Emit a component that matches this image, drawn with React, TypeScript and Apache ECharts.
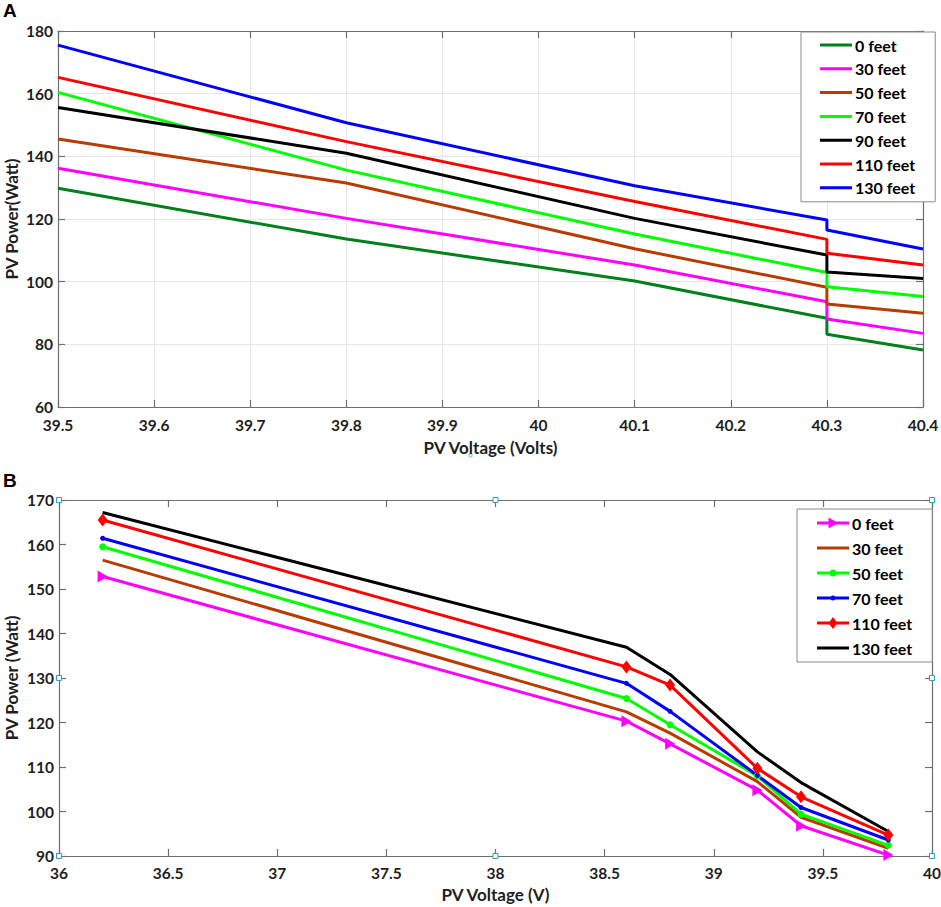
import React, { useEffect, useRef } from "react";
import * as echarts from "echarts";

// ---------- Panel A data ----------
const voltageA = [39.5, 39.8, 40.1, 40.3, 40.3, 40.4];
const namesA = ["0 feet", "30 feet", "50 feet", "70 feet", "90 feet", "110 feet", "130 feet"];
const powerA0 = [129.8, 113.6, 100.2, 88.3, 83.2, 78.2];
const powerA30 = [136.2, 120.2, 105.3, 93.6, 88.1, 83.5];
const powerA50 = [145.5, 131.5, 110.5, 98.2, 92.9, 89.9];
const powerA70 = [160.4, 135.6, 115.2, 102.9, 98.4, 95.3];
const powerA90 = [155.6, 141.0, 120.2, 108.5, 103.1, 101.0];
const powerA110 = [165.2, 144.7, 125.6, 113.5, 109.1, 105.3];
const powerA130 = [175.5, 150.7, 130.6, 119.7, 116.5, 110.4];
const xAxisA = { min: 39.5, max: 40.4, interval: 0.1 };
const yAxisA = { min: 60, max: 180, interval: 20 };

// ---------- Panel B data ----------
const voltageB = [36.2, 38.6, 38.8, 39.2, 39.4, 39.8];
const namesB = ["0 feet", "30 feet", "50 feet", "70 feet", "110 feet", "130 feet"];
const powerB0 = [152.8, 120.3, 115.2, 104.8, 96.8, 90.2];
const powerB30 = [156.5, 122.4, 117.6, 106.7, 98.7, 91.7];
const powerB50 = [159.5, 125.4, 119.5, 108.0, 99.4, 92.4];
const powerB70 = [161.4, 128.8, 122.5, 108.1, 100.9, 93.6];
const powerB110 = [165.5, 132.5, 128.4, 109.7, 103.3, 94.7];
const powerB130 = [167.2, 136.9, 130.8, 113.4, 106.5, 95.5];
const xAxisB = { min: 36, max: 40, interval: 0.5 };
const yAxisB = { min: 90, max: 170, interval: 10 };

const powersA = [powerA0, powerA30, powerA50, powerA70, powerA90, powerA110, powerA130];
const powersB = [powerB0, powerB30, powerB50, powerB70, powerB110, powerB130];

// ---------- styles ----------
const colorsA = ["#00801a", "#ff00ff", "#b83c00", "#00ff00", "#000000", "#ff0000", "#0000ff"];
const colorsB = ["#ff00ff", "#b83c00", "#00ff00", "#0000ff", "#ff0000", "#000000"];
const FONT = "Lato";
const AXIS_COLOR = "#6e6e6e";
const LABEL_COLOR = "#1e1e1e";

const gridA = { left: 58, top: 31, width: 865, height: 376 };
const gridB = { left: 59, top: 500, width: 873, height: 356 };

const anchors = "M0 0 L0.01 0 L0.01 0.01 Z M32 14 L31.99 14 L31.99 13.99 Z ";
const lineRect = "M0 5.5 L32 5.5 L32 8.5 L0 8.5 Z ";
const iconLine = "path://" + anchors + lineRect;
const iconTri = "path://" + anchors + lineRect + "M11.5 1.5 L21 7 L11.5 12.5 Z";
const iconCircleBig = "path://" + anchors + lineRect + "M12.5 7 A3.5 3.5 0 1 1 19.5 7 A3.5 3.5 0 1 1 12.5 7 Z";
const iconCircleSmall = "path://" + anchors + lineRect + "M13.5 7 A2.5 2.5 0 1 1 18.5 7 A2.5 2.5 0 1 1 13.5 7 Z";
const iconDiamond = "path://" + anchors + lineRect + "M16 1 L20.5 7 L16 13 L11.5 7 Z";
const iconsB = [iconTri, iconLine, iconCircleBig, iconCircleSmall, iconDiamond, iconLine];

const symbolsB: any[] = [
  { symbol: "path://M0 0 L10 6 L0 12 Z", symbolSize: [10, 12] },
  { symbol: "none", symbolSize: 0 },
  { symbol: "circle", symbolSize: 7 },
  { symbol: "circle", symbolSize: 5 },
  { symbol: "diamond", symbolSize: [10, 13] },
  { symbol: "none", symbolSize: 0 },
];

const tickLabel = { show: true, color: LABEL_COLOR, fontFamily: FONT, fontWeight: "bold", fontSize: 15.5 };
const legendText = { color: "#000", fontFamily: FONT, fontWeight: "bold", fontSize: 16, padding: [0, 0, 0, -2] };

function valueAxis(cfg: any, gridIndex: number, position: string, main: boolean, grid: boolean, extra: any = {}) {
  return {
    type: "value",
    gridIndex,
    position,
    min: cfg.min,
    max: cfg.max,
    interval: cfg.interval,
    nameMoveOverlap: false,
    axisLine: { show: true, onZero: false, lineStyle: { color: AXIS_COLOR, width: 1.2 } },
    axisTick: { show: true, inside: true, length: 7, lineStyle: { color: AXIS_COLOR, width: 1.2 } },
    axisLabel: main ? tickLabel : { show: false },
    splitLine: { show: main && grid, lineStyle: { color: "#e6e6e6", width: 1 } },
    nameTextStyle: { color: LABEL_COLOR, fontFamily: FONT, fontWeight: "bold", fontSize: 17, lineHeight: 17 },
    ...extra,
  };
}

function handle(x: number, y: number) {
  return {
    type: "rect",
    shape: { x: x - 2.5, y: y - 2.5, width: 5, height: 5 },
    style: { fill: "#ffffff", stroke: "#2c9fc9", lineWidth: 1 },
    z: 100,
  };
}

export default function App() {
  const ref = useRef<HTMLDivElement>(null);

  useEffect(() => {
    if (!ref.current) return;
    const chart = echarts.init(ref.current, null, { renderer: "svg" });

    const seriesA = namesA.map((n, i) => ({
      name: "A|" + n,
      type: "line",
      xAxisIndex: 0,
      yAxisIndex: 0,
      data: voltageA.map((v, j) => [v, powersA[i][j]]),
      symbol: "none",
      lineStyle: { width: 3, color: colorsA[i] },
      itemStyle: { color: colorsA[i] },
      emphasis: { disabled: true },
    }));

    const seriesB = namesB.map((n, i) => ({
      name: "B|" + n,
      type: "line",
      xAxisIndex: 2,
      yAxisIndex: 2,
      data: voltageB.map((v, j) => [v, powersB[i][j]]),
      symbol: symbolsB[i].symbol,
      symbolSize: symbolsB[i].symbolSize,
      showSymbol: symbolsB[i].symbol !== "none",
      lineStyle: { width: 3, color: colorsB[i] },
      itemStyle: { color: colorsB[i] },
      emphasis: { disabled: true },
    }));

    const hB = [
      [gridB.left, gridB.top],
      [gridB.left + gridB.width / 2, gridB.top],
      [gridB.left + gridB.width, gridB.top],
      [gridB.left, gridB.top + gridB.height / 2],
      [gridB.left + gridB.width, gridB.top + gridB.height / 2],
      [gridB.left, gridB.top + gridB.height],
      [gridB.left + gridB.width / 2, gridB.top + gridB.height],
      [gridB.left + gridB.width, gridB.top + gridB.height],
    ];

    const option: any = {
      animation: false,
      backgroundColor: "#ffffff",
      grid: [
        { ...gridA, containLabel: false, outerBoundsMode: "none" },
        { ...gridB, containLabel: false, outerBoundsMode: "none" },
      ],
      xAxis: [
        valueAxis(xAxisA, 0, "bottom", true, true, {
          name: "PV Voltage (Volts)",
          nameLocation: "middle",
          nameGap: 32,
          axisLabel: { ...tickLabel, margin: 10 },
        }),
        valueAxis(xAxisA, 0, "top", false, false),
        valueAxis(xAxisB, 1, "bottom", true, false, {
          name: "PV Voltage (V)",
          nameLocation: "middle",
          nameGap: 30,
          axisLabel: { ...tickLabel, margin: 9 },
        }),
        valueAxis(xAxisB, 1, "top", false, false),
      ],
      yAxis: [
        valueAxis(yAxisA, 0, "left", true, true, {
          name: "PV Power(Watt)",
          nameLocation: "middle",
          nameGap: 38,
          axisLabel: { ...tickLabel, margin: 5 },
        }),
        valueAxis(yAxisA, 0, "right", false, false),
        valueAxis(yAxisB, 1, "left", true, false, {
          name: "PV Power (Watt)",
          nameLocation: "middle",
          nameGap: 39,
          axisLabel: { ...tickLabel, margin: 5 },
        }),
        valueAxis(yAxisB, 1, "right", false, false),
      ],
      legend: [
        {
          orient: "vertical",
          left: 801,
          top: 32,
          padding: [5, 20, 6, 19],
          itemWidth: 32,
          itemHeight: 14,
          itemGap: 7.8,
          borderColor: "#8a8a8a",
          borderWidth: 1,
          backgroundColor: "#ffffff",
          selectedMode: false,
          formatter: (name: string) => name.split("|")[1],
          textStyle: legendText,
          data: namesA.map((n) => ({ name: "A|" + n, icon: iconLine })),
        },
        {
          orient: "vertical",
          left: 797,
          top: 509,
          padding: [6, 20, 6, 20],
          itemWidth: 32,
          itemHeight: 14,
          itemGap: 9.0,
          borderColor: "#8a8a8a",
          borderWidth: 1,
          backgroundColor: "#ffffff",
          selectedMode: false,
          formatter: (name: string) => name.split("|")[1],
          textStyle: legendText,
          data: namesB.map((n, i) => ({ name: "B|" + n, icon: iconsB[i] })),
        },
      ],
      graphic: [
        {
          type: "text",
          left: 3,
          top: 1,
          style: { text: "A", font: "bold 19px 'Liberation Sans'", fill: "#000" },
        },
        {
          type: "text",
          left: 3,
          top: 471,
          style: { text: "B", font: "bold 19px 'Liberation Sans'", fill: "#000" },
        },
        ...hB.map(([x, y]) => handle(x, y)),
        {
          type: "rect",
          shape: { x: 469, y: 454, width: 3, height: 3 },
          style: { fill: "#ffffff", stroke: "#7cc6dc", lineWidth: 1 },
        },
      ],
      series: [...seriesA, ...seriesB],
    };

    chart.setOption(option);
    return () => chart.dispose();
  }, []);

  return (
    <div
      ref={ref}
      style={{ position: "absolute", left: 0, top: 0, width: 941, height: 907, background: "#fff" }}
    />
  );
}
